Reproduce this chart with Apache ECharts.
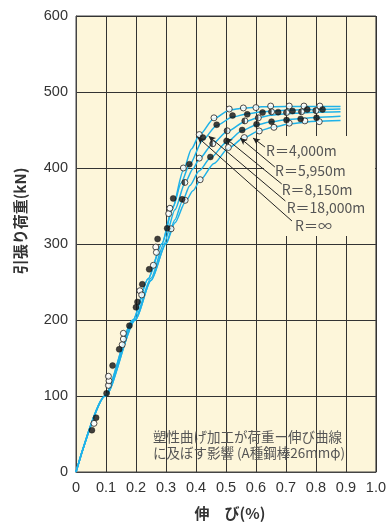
<!DOCTYPE html>
<html><head><meta charset="utf-8">
<script src="https://cdn.jsdelivr.net/npm/echarts@6/dist/echarts.min.js"></script>
<style>html,body{margin:0;padding:0;background:#fff}#c{width:389px;height:524px}</style>
</head><body><div id="c"></div>
<script>
// ---- data (elongation %, tensile load kN) ----
const curveNames = ['R＝4,000m', 'R＝5,950m', 'R＝8,150m', 'R＝18,000m', 'R＝∞'];
const curveR4000 = [[0,0],[0.098,100],[0.198,200],[0.25,252],[0.3,300],[0.33,328],[0.364,355],[0.39,370],[0.414,384],[0.46,406],[0.508,426],[0.561,440],[0.611,449],[0.66,454],[0.711,458],[0.8,461.5],[0.882,462.5]];
const curveR5950 = [[0,0],[0.098,100],[0.198,200],[0.25,252],[0.3,301],[0.33,332],[0.354,356],[0.38,377],[0.41,396],[0.448,413],[0.502,434],[0.554,449],[0.602,457],[0.652,461],[0.7,463.5],[0.8,466.5],[0.882,468]];
const curveR8150 = [[0,0],[0.097,100],[0.195,200],[0.25,255],[0.293,300],[0.33,345],[0.363,380],[0.39,399],[0.411,412],[0.456,432],[0.504,448],[0.563,461],[0.608,466],[0.65,469.5],[0.7,471.5],[0.8,473.5],[0.882,474]];
const curveR18000 = [[0,0],[0.096,100],[0.19,200],[0.24,254],[0.286,300],[0.325,350],[0.35,380],[0.378,404],[0.423,437],[0.469,456],[0.522,467],[0.571,471.5],[0.622,474],[0.7,476],[0.8,477],[0.882,477.5]];
const curveRinf = [[0,0],[0.096,100],[0.19,200],[0.24,254],[0.286,300],[0.32,345],[0.358,397],[0.385,425],[0.411,443],[0.46,465],[0.511,476],[0.558,479],[0.62,480.5],[0.7,481],[0.882,481]];
const openPts = [[0.06,64],[0.108,114],[0.11,120],[0.108,126],[0.154,167.5],[0.158,175],[0.158,182.5],[0.213,238.5],[0.219,233],[0.258,272],[0.266,296],[0.268,289],[0.317,320],[0.309,340],[0.313,347],[0.358,400],[0.364,357.5],[0.414,384.6],[0.411,413],[0.411,444],[0.46,466],[0.511,477.6],[0.558,479],[0.6,479.5],[0.649,481.5],[0.711,481.5],[0.76,481.5],[0.813,481.5],[0.508,427],[0.561,440],[0.611,448.7],[0.66,453.5],[0.711,459],[0.763,462],[0.811,461]];
const filledPts = [[0.053,55],[0.067,71.5],[0.102,103.5],[0.122,140],[0.144,161.4],[0.178,192.5],[0.2,216.7],[0.205,223.7],[0.221,247],[0.244,266.7],[0.272,306.6],[0.304,320.6],[0.324,360],[0.354,358.8],[0.378,405],[0.423,440],[0.448,414.5],[0.469,457],[0.502,435.5],[0.522,469],[0.554,450],[0.571,470.6],[0.602,457.5],[0.622,473],[0.652,461],[0.674,473.5],[0.702,463],[0.722,475],[0.749,464.5],[0.771,477],[0.802,466],[0.822,477]];
const halfPts = [[0.363,381],[0.456,432],[0.504,449],[0.563,462],[0.608,466],[0.652,474],[0.702,473],[0.752,474],[0.8,475.5]];
// arrow annotations: tip on curve -> label end
const arrowTips = [[0.59,439.5],[0.547,439.5],[0.498,439.5],[0.442,442],[0.405,440.8]];
const arrowEnds = [[0.63,427.6],[0.663,401.3],[0.686,379],[0.698,356.6],[0.72,330.3]];
const xTicks = [0,0.1,0.2,0.3,0.4,0.5,0.6,0.7,0.8,0.9,1.0];
const yTicks = [0,100,200,300,400,500,600];
const yTitle = '引張り荷重(kN)';
const xTitle = '伸　び(%)';
const noteLines = ['塑性曲げ加工が荷重ー伸び曲線', 'に及ぼす影響 (A種鋼棒26mmφ)'];

const chart = echarts.init(document.getElementById('c'), null, {renderer:'canvas'});
const cream = '#fdf6da';
const cyan = '#1fb2e8';
const curves = [curveR4000, curveR5950, curveR8150, curveR18000, curveRinf];
const lineSeries = curves.map((d,i)=>({
  type:'line', name:curveNames[i], data:d, showSymbol:false, smooth:0.25, smoothMonotone:'x',
  lineStyle:{color:cyan,width:1.5}, z:2, silent:true
}));
lineSeries[0].markLine = {
  silent:true, symbol:['arrow','none'], symbolSize:[5,7], animation:false,
  lineStyle:{color:'#222',width:1,type:'solid'}, label:{show:false},
  data: arrowTips.map((t,i)=>[{coord:t},{coord:arrowEnds[i]}])
};
const labelPos = [[266,150.7],[275,170.7],[281.7,189.3],[286.7,207.3],[295,225.7]];
const labelTexts = labelPos.map((p,i)=>({
  type:'text', x:p[0], y:p[1], z:5,
  style:{text:curveNames[i], font:'14px "Noto Sans CJK JP", sans-serif', fill:'#555', textAlign:'left', textVerticalAlign:'middle'}
}));
chart.setOption({
  animation:false,
  backgroundColor:'#fff',
  grid:{left:76,right:13,top:16,bottom:52,show:true,backgroundColor:cream,borderColor:'#444',borderWidth:1},
  xAxis:{type:'value',min:0,max:1,interval:0.1,
    axisLine:{show:true,lineStyle:{color:'#444'}},axisTick:{show:false},
    splitLine:{show:true,lineStyle:{color:'#333',width:1}},
    axisLabel:{color:'#333',fontSize:14.5,fontFamily:'"Liberation Sans", Arial, sans-serif',margin:8,
      formatter:v=>{const t=xTicks.find(k=>Math.abs(k-v)<1e-6);return t===0?'0':(t!==undefined?t.toFixed(1):'');}}},
  yAxis:{type:'value',min:0,max:600,interval:100,
    axisLine:{show:true,lineStyle:{color:'#444'}},axisTick:{show:false},
    splitLine:{show:true,lineStyle:{color:'#333',width:1}},
    axisLabel:{color:'#333',fontSize:14.5,fontFamily:'"Liberation Sans", Arial, sans-serif',margin:8,
      formatter:v=>yTicks.includes(v)?String(v):''}},
  graphic:[
    {type:'rect', shape:{x:264,y:136,width:111,height:100}, style:{fill:cream}, z:1, silent:true},
    ...labelTexts,
    {type:'text', x:20.5, y:221, rotation:Math.PI/2, z:5,
      style:{text:yTitle, font:'bold 15px "Noto Sans CJK JP", sans-serif', fill:'#333', textAlign:'center', textVerticalAlign:'middle'}},
    {type:'text', x:230, y:513, z:5,
      style:{text:xTitle, font:'bold 15px "Noto Sans CJK JP", sans-serif', fill:'#333', textAlign:'center', textVerticalAlign:'middle'}},
    {type:'text', x:153, y:437, z:5,
      style:{text:noteLines[0], font:'13.5px "Noto Sans CJK JP", sans-serif', fill:'#555', textAlign:'left', textVerticalAlign:'middle'}},
    {type:'text', x:153, y:452.5, z:5,
      style:{text:noteLines[1], font:'13.5px "Noto Sans CJK JP", sans-serif', fill:'#555', textAlign:'left', textVerticalAlign:'middle'}}
  ],
  series:[
    ...lineSeries,
    {type:'scatter', data:openPts, symbol:'circle', symbolSize:6, z:3, silent:true,
      itemStyle:{color:'#fff',borderColor:'#222',borderWidth:1}},
    {type:'scatter', data:halfPts, symbol:'circle', symbolSize:6, z:3, silent:true,
      itemStyle:{color:'#fff',borderColor:'#222',borderWidth:1}},
    {type:'scatter', data:halfPts, symbol:'path://M10,0 A10,10 0 0 0 10,20 Z', symbolSize:[3,6], symbolOffset:[-1.5,0], z:4, silent:true,
      itemStyle:{color:'#222'}},
    {type:'scatter', data:filledPts, symbol:'circle', symbolSize:6, z:3, silent:true,
      itemStyle:{color:'#111',borderColor:'#111',borderWidth:0.5}}
  ]
});
</script></body></html>
